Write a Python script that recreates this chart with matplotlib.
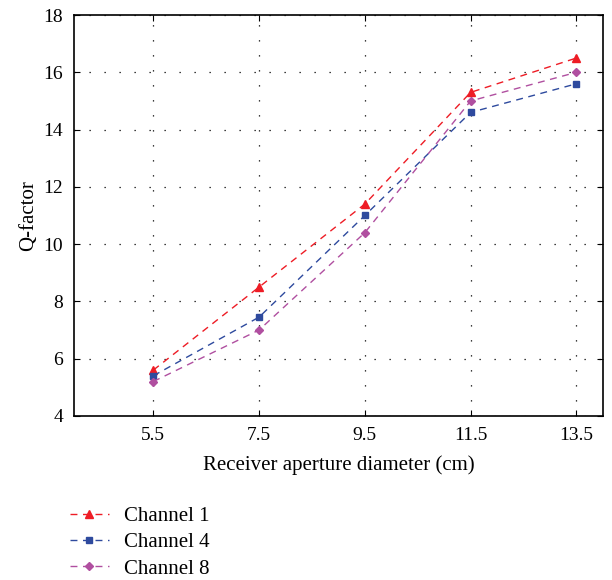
import matplotlib.pyplot as plt

plt.rcParams["font.family"] = ["Liberation Serif", "DejaVu Serif"]

diameters = [5.5, 7.5, 9.5, 11.5, 13.5]
channel_1 = [5.6, 8.5, 11.4, 15.3, 16.5]
channel_4 = [5.4, 7.45, 11.0, 14.6, 15.6]
channel_8 = [5.2, 7.0, 10.4, 15.0, 16.0]

fig = plt.figure(figsize=(6.12, 5.8), dpi=100)
ax = fig.add_axes([0.121, 0.283, 0.864, 0.691])

ax.plot(diameters, channel_1, "--^", color="#ee1c25", ms=6, lw=1, dashes=(5, 4), label="Channel 1")
ax.plot(diameters, channel_4, "--s", color="#2e4a9e", ms=4.5, lw=1, dashes=(5, 4), label="Channel 4")
ax.plot(diameters, channel_8, "--D", color="#b04fa0", ms=4.5, lw=1, dashes=(5, 4), label="Channel 8")

ax.set_xlim(4, 14)
ax.set_ylim(4, 18)
ax.set_xticks(diameters)
ax.set_xticklabels([str(d) for d in diameters])
ax.set_yticks(range(4, 19, 2))
ax.tick_params(direction="in", top=True, right=True, labelsize=14, length=4, pad=8)
ax.grid(True, color="black", linestyle=(0, (1, 11)), linewidth=0.9)
for s in ax.spines.values():
    s.set_linewidth(1.2)

ax.set_xlabel("Receiver aperture diameter (cm)", fontsize=15, labelpad=8)
ax.set_ylabel("Q-factor", fontsize=15, labelpad=4)

fig.legend(loc="upper left", bbox_to_anchor=(0.09, 0.152), frameon=False,
           fontsize=15, handlelength=1.9, labelspacing=0.32, handletextpad=0.7,
           borderaxespad=0.3)

fig.savefig("out.png", dpi=100)
